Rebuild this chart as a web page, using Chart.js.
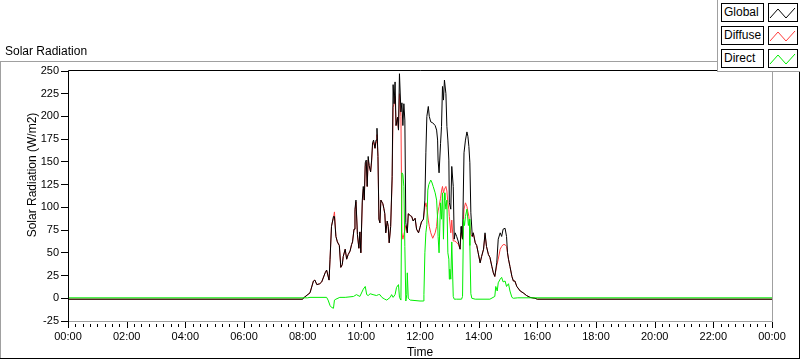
<!DOCTYPE html>
<html>
<head>
<meta charset="utf-8">
<script src="https://cdn.jsdelivr.net/npm/chart.js@4.4.1/dist/chart.umd.min.js"></script>
<style>
html,body{margin:0;padding:0;background:#fff;}
#wrap{position:relative;width:800px;height:361px;overflow:hidden;font-family:"Liberation Sans",Arial,sans-serif;color:#000;}
#c{position:absolute;left:0;top:0;}
.ln{position:absolute;}
#title{position:absolute;left:5px;top:44px;font-size:12px;line-height:14px;white-space:nowrap;}
#ytitle{position:absolute;left:-68px;top:168px;width:200px;height:14px;line-height:14px;font-size:12px;text-align:center;transform:rotate(-90deg);transform-origin:50% 50%;white-space:nowrap;}
#xtitle{position:absolute;left:370px;top:345px;width:100px;height:14px;line-height:14px;font-size:12px;text-align:center;}
#legend{position:absolute;left:717px;top:0;width:83px;height:72px;background:#fff;border-left:1px solid #a0a0a0;border-bottom:1px solid #a0a0a0;box-sizing:border-box;}
.lab{position:absolute;left:3px;width:43px;height:19px;box-sizing:border-box;border:1px solid #000;font-size:12px;line-height:17px;padding-left:2px;background:#fff;}
.sym{position:absolute;left:50px;width:30px;height:19px;box-sizing:border-box;border:1px solid #000;background:#fff;}
.sym svg{position:absolute;left:0;top:0;}
</style>
</head>
<body>
<div id="wrap">
  <canvas id="c" width="800" height="361"></canvas>
  <div class="ln" style="left:0;top:61px;width:717px;height:1px;background:#a0a0a0;"></div>
  <div class="ln" style="left:0;top:61px;width:1px;height:298px;background:#a0a0a0;"></div>
  <div class="ln" style="left:0;top:358px;width:800px;height:1px;background:#000;"></div>
  <div class="ln" style="left:799px;top:61px;width:1px;height:298px;background:#000;"></div>
  <div id="title">Solar Radiation</div>
  <div id="ytitle">Solar Radiation (W/m2)</div>
  <div id="xtitle">Time</div>
  <div id="legend"></div>
</div>
<script>
// ---- data (minutes since midnight) ----
const seriesNames = ["Global", "Diffuse", "Direct"];
const seriesColors = ["#000000", "#ff3c3c", "#00ee00"];

const timesGD = [0,480,481,495,502,505,509,515,519,526,529,534,536,539,543,545,548,551,555,558,561,563,567,570,573,577,580,582,585,587,589,592,595,597,599,602,604,606,608,610,612,614,616,619,621,623,625,628,630,632,634,636,638,640,644,646,648,650,653,655,657,660,663,665,667,669,671,674,676,678,681,683,685,687,689,691,694,696,700,703,706,710,713,717,720,723,727,730,732,734,737,739,742,746,751,754,756,757,759,762,764,766,768,770,773,775,777,779,780,783,785,788,790,792,795,798,802,804,805,807,810,813,816,818,820,822,824,827,829,833,836,839,843,846,850,853,856,860,863,867,870,873,877,880,884,887,890,894,897,899,901,904,908,911,914,918,925,931,938,945,955,960,1440];

const globalVals = [-1,-1,0,6,19,20,15,16,18,28,31,20,43,79,90,90,68,62,58,34,37,46,54,43,48,52,59,62,76,98,108,70,55,73,50,108,123,108,149,152,123,156,146,139,152,171,174,165,174,187,156,87,83,108,104,99,93,72,85,79,61,79,134,235,214,238,190,199,185,247,205,215,190,214,196,83,72,93,91,90,85,88,76,72,78,84,87,108,160,200,211,200,194,193,190,185,174,152,138,170,189,233,218,240,225,189,174,152,105,98,145,123,65,72,68,63,54,79,72,65,160,174,183,178,167,149,94,68,72,61,58,50,39,46,54,72,57,48,45,35,28,24,39,65,72,68,76,77,68,50,43,35,24,19,19,13,8,6,3,1,0,-1,-1];

const diffuseVals = [-1,-1,0,6,19,20,15,16,18,28,31,20,43,80,88,95,68,62,58,34,37,46,54,43,48,52,59,62,76,95,106,70,55,73,50,105,120,108,145,150,123,152,146,139,150,168,172,165,172,180,156,87,83,108,104,99,93,72,85,79,61,79,130,210,214,222,190,199,185,225,200,72,65,70,75,80,72,93,91,90,85,88,76,72,78,84,87,100,105,100,86,79,72,66,72,79,92,96,101,110,118,123,116,120,123,118,105,98,90,72,86,63,63,63,61,60,54,72,72,65,98,105,101,95,90,79,70,68,72,61,58,50,39,46,54,70,57,48,45,35,28,24,36,43,54,57,59,59,57,50,43,35,24,19,19,13,8,6,3,1,0,-1,-1];

const timesDirect = [0,490,495,529,532,536,539,543,545,548,556,567,584,587,590,597,604,608,611,614,618,624,631,635,638,642,648,652,659,662,665,669,672,676,678,681,683,685,687,689,691,693,694,696,700,720,727,728,730,732,734,736,738,742,744,747,751,754,756,757,759,762,764,766,768,770,771,773,775,777,779,780,781,783,785,788,790,795,805,807,809,811,813,816,819,821,822,824,826,833,863,873,875,878,880,884,887,890,894,897,901,904,908,911,920,1440];

const directVals = [0.5,0.5,1,1,-2,-8,-10,-11,-2,-1,1,1,2,3,4,2,10,13,4,3,5,4,3,4,4,1,-1,-2,1,4,1,4,12,15,1,-2,138,136,123,57,-3,4,28,0,-2,-3,-3,4,50,72,81,119,125,130,128,123,116,108,87,68,50,105,87,116,65,116,108,98,108,50,43,21,32,21,62,2,-1,-1,-1,2,87,80,90,98,80,87,58,5,0,-1,-1,2,13,8,17,21,23,18,19,13,16,8,1,0,0.5,0.5];

const xTickMinutes = [0,120,240,360,480,600,720,840,960,1080,1200,1320,1440];
const yTickValues = [-25,0,25,50,75,100,125,150,175,200,225,250];

// ---- helpers ----
const pair = (ts, vs) => ts.map((t, i) => ({x: t, y: vs[i]}));
const fmt = v => { const m = Math.round(v) % 1440; const h = Math.floor(m / 60), mm = m % 60; return String(h).padStart(2,"0") + ":" + String(mm).padStart(2,"0"); };
const FONT = "'Liberation Sans', Arial, sans-serif";

// ---- legend (HTML text) ----
const legend = document.getElementById("legend");
seriesNames.forEach((n, i) => {
  const top = 3 + i * 23;
  const lab = document.createElement("div");
  lab.className = "lab"; lab.style.top = top + "px"; lab.textContent = n;
  const sym = document.createElement("div");
  sym.className = "sym"; sym.style.top = top + "px";
  sym.innerHTML = '<svg width="28" height="17"><polyline points="1,14 9,5 17,14 26,4" fill="none" stroke="' + seriesColors[i] + '" stroke-width="1"/></svg>';
  legend.appendChild(lab); legend.appendChild(sym);
});

// ---- frame / minor ticks plugin ----
const framePlugin = {
  id: "frame",
  afterDraw(chart) {
    const {ctx, chartArea: a, scales: {x}} = chart;
    ctx.save();
    ctx.lineWidth = 1;
    ctx.strokeStyle = "#000";
    for (let t = 0; t <= 1440; t += 15) {
      const px = Math.round(x.getPixelForValue(t)) + 0.5;
      const major = t % 120 === 0;
      ctx.beginPath();
      ctx.moveTo(px, a.bottom + (major ? 1 : 3));
      ctx.lineTo(px, a.bottom + (major ? 7 : 6));
      ctx.stroke();
    }
    // plot border
    ctx.strokeStyle = "#a0a0a0";
    ctx.beginPath();
    ctx.moveTo(a.right + 0.5, a.top - 1);
    ctx.lineTo(a.right + 0.5, a.bottom + 0.5);
    ctx.lineTo(a.left, a.bottom + 0.5);
    ctx.stroke();
    ctx.strokeStyle = "#000";
    ctx.beginPath();
    ctx.moveTo(a.left + 0.5, a.bottom + 1);
    ctx.lineTo(a.left + 0.5, a.top - 0.5);
    ctx.lineTo(a.right + 1, a.top - 0.5);
    ctx.stroke();
    ctx.restore();
  }
};

new Chart(document.getElementById("c"), {
  type: "line",
  data: {
    datasets: [
      {label: seriesNames[0], data: pair(timesGD, globalVals), borderColor: seriesColors[0], order: 1},
      {label: seriesNames[1], data: pair(timesGD, diffuseVals), borderColor: seriesColors[1], order: 2},
      {label: seriesNames[2], data: pair(timesDirect, directVals), borderColor: seriesColors[2], order: 0}
    ]
  },
  options: {
    responsive: false,
    animation: false,
    devicePixelRatio: 1,
    layout: {padding: {left: 0, right: 28, top: 71, bottom: 0}},
    plugins: {legend: {display: false}, tooltip: {enabled: false}},
    elements: {point: {radius: 0}, line: {borderWidth: 1, tension: 0}},
    scales: {
      x: {
        type: "linear", min: 0, max: 1440,
        afterFit(s) { s.height = 40; },
        afterBuildTicks(s) { s.ticks = xTickMinutes.map(v => ({value: v})); },
        ticks: {callback: v => fmt(v), font: {family: FONT, size: 11}, color: "#000", padding: 2, maxRotation: 0, autoSkip: false},
        grid: {display: true, drawOnChartArea: false, drawTicks: true, tickLength: 7, tickColor: "rgba(0,0,0,0)"},
        border: {display: false}
      },
      y: {
        min: -25, max: 250,
        afterFit(s) { s.width = 68; },
        afterBuildTicks(s) { s.ticks = yTickValues.map(v => ({value: v})); },
        ticks: {font: {family: FONT, size: 11}, color: "#000", padding: 2},
        grid: {display: true, drawOnChartArea: false, drawTicks: true, tickLength: 7, tickColor: "#000"},
        border: {display: false}
      }
    }
  },
  plugins: [framePlugin]
});
</script>
</body>
</html>
